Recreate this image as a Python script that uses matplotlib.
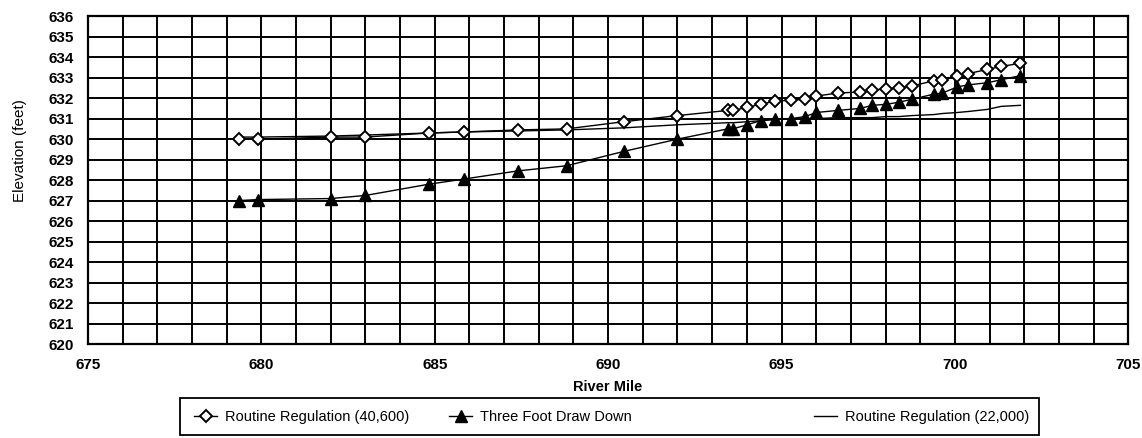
import matplotlib
matplotlib.use("Agg")
import matplotlib.pyplot as plt
from matplotlib.ticker import MultipleLocator
from matplotlib.patches import Rectangle

# river miles shared by all three profiles
river_mile = [679.35, 679.9, 682.0, 683.0, 684.83, 685.84, 687.4, 688.8, 690.45, 692.0,
              693.45, 693.6, 694.0, 694.4, 694.8, 695.26, 695.68, 696.0, 696.62, 697.27,
              697.62, 698.02, 698.38, 698.77, 699.4, 699.64, 700.07, 700.39, 700.93,
              701.34, 701.89]

routine_40600 = [630.0, 630.0, 630.1, 630.1, 630.3, 630.35, 630.45, 630.5, 630.85, 631.15,
                 631.4, 631.4, 631.55, 631.7, 631.85, 631.9, 631.95, 632.1, 632.25, 632.3,
                 632.4, 632.45, 632.5, 632.6, 632.85, 632.9, 633.1, 633.2, 633.4, 633.55,
                 633.7]

draw_down = [627.0, 627.05, 627.1, 627.25, 627.8, 628.05, 628.45, 628.7, 629.4, 630.0,
             630.5, 630.5, 630.7, 630.9, 631.0, 631.0, 631.1, 631.3, 631.4, 631.5,
             631.65, 631.7, 631.8, 631.95, 632.2, 632.25, 632.55, 632.65, 632.75, 632.9,
             633.1]

routine_22000 = [630.1, 630.1, 630.15, 630.2, 630.3, 630.35, 630.4, 630.45, 630.55, 630.7,
                 630.8, 630.8, 630.85, 630.9, 630.95, 631.0, 631.0, 631.0, 631.05, 631.05,
                 631.05, 631.1, 631.1, 631.15, 631.2, 631.25, 631.3, 631.35, 631.45, 631.6,
                 631.65]

plt.rcParams['font.family'] = ['Liberation Sans', 'DejaVu Sans']

fig = plt.figure(figsize=(11.42, 4.38), dpi=100)
ax = fig.add_axes([0.077, 0.2146, 0.911, 0.7484])

l1, = ax.plot(river_mile, routine_40600, color='black', lw=1.0, marker='D', ms=6.5,
              mfc='white', mec='black', mew=1.4, label='Routine Regulation (40,600)', zorder=4)
l2, = ax.plot(river_mile, draw_down, color='black', lw=1.0, marker='^', ms=8,
              mfc='black', mec='black', label='Three Foot Draw Down', zorder=4)
l3, = ax.plot(river_mile, routine_22000, color='black', lw=1.0,
              label='Routine Regulation (22,000)', zorder=3)

ax.set_xlim(675, 705)
ax.set_ylim(620, 636)
ax.xaxis.set_major_locator(MultipleLocator(5))
ax.xaxis.set_minor_locator(MultipleLocator(1))
ax.yaxis.set_major_locator(MultipleLocator(1))
ax.grid(which='both', color='black', lw=1.4)
ax.set_axisbelow(True)
ax.tick_params(which='both', length=0)
ax.tick_params(axis='x', pad=10)
ax.tick_params(axis='y', pad=10)
for lab in ax.get_xticklabels() + ax.get_yticklabels():
    lab.set_fontweight('bold')
    lab.set_fontsize(11)
for s in ax.spines.values():
    s.set_linewidth(1.6)

ax.set_xlabel('River Mile', fontsize=10.5, fontweight='bold', labelpad=6)
ax.set_ylabel('Elevation (feet)', fontsize=11)
ax.yaxis.set_label_coords(-0.0586, 0.59)

# Excel style legend: one frame, three entries at fixed slots
fig.patches.append(Rectangle((180 / 1142, 3 / 438), 859 / 1142, 37 / 438,
                             transform=fig.transFigure, fill=False,
                             edgecolor='black', lw=1.3))
slots = [(l1, 194), (l2, 449), (l3, 814)]
for handle, px in slots:
    fig.legend([handle], [handle.get_label()], loc='center left',
               bbox_to_anchor=(px / 1142, 21 / 438), frameon=False,
               fontsize=10.5, handlelength=1.6, handletextpad=0.5,
               borderpad=0, borderaxespad=0)

fig.savefig('out.png', dpi=100)
